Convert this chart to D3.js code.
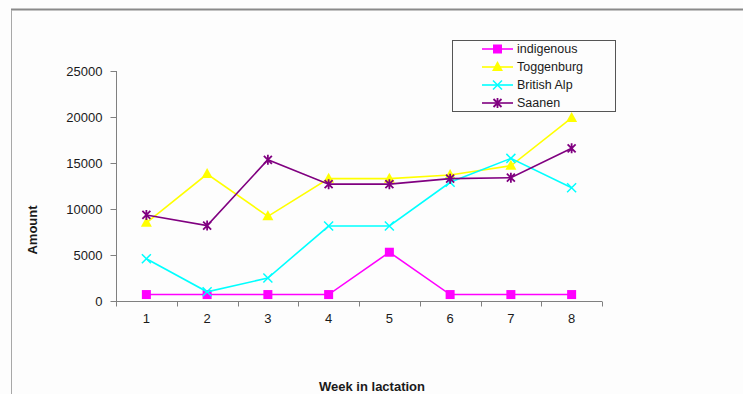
<!DOCTYPE html>
<html><head><meta charset="utf-8">
<script src="https://cdn.jsdelivr.net/npm/d3@7"></script>
<style>
html,body{margin:0;padding:0;background:#fdfdfd;}
svg{display:block;}
text{font-family:"Liberation Sans",Arial,sans-serif;}
</style></head>
<body>
<script>
const weeks = ["1","2","3","4","5","6","7","8"];
const indigenous = [700, 700, 700, 700, 5300, 700, 700, 700];
const toggenburg = [8500, 13800, 9200, 13300, 13300, 13700, 14700, 19900];
const britishAlp = [4600, 1000, 2500, 8150, 8150, 12900, 15500, 12300];
const saanen = [9350, 8200, 15350, 12700, 12700, 13300, 13400, 16600];
const yTicks = [0, 5000, 10000, 15000, 20000, 25000];
const seriesNames = ["indigenous", "Toggenburg", "British Alp", "Saanen"];

const series = [
  {name: seriesNames[0], values: indigenous, color: "#ff00ff", marker: "square"},
  {name: seriesNames[1], values: toggenburg, color: "#ffff00", marker: "triangle"},
  {name: seriesNames[2], values: britishAlp, color: "#00ffff", marker: "x"},
  {name: seriesNames[3], values: saanen, color: "#800080", marker: "star"}
];

const W = 743, H = 394;
const svg = d3.select("body").append("svg").attr("width", W).attr("height", H);

// frame lines
svg.append("line").attr("x1", 11).attr("x2", W).attr("y1", 9.5).attr("y2", 9.5).attr("stroke", "#8a8a8a").attr("stroke-width", 2);
svg.append("line").attr("x1", 11.5).attr("x2", 11.5).attr("y1", 10).attr("y2", H).attr("stroke", "#a8a8a8").attr("stroke-width", 1);

const x = d3.scaleBand().domain(weeks).range([116, 602]);
const y = d3.scaleLinear().domain([0, 25000]).range([301, 71]);

// y axis
const yAxis = svg.append("g").attr("transform", "translate(116.5,0)")
  .call(d3.axisLeft(y).tickValues(yTicks).tickSize(6).tickPadding(8).tickFormat(d3.format("d")));
yAxis.select(".domain").attr("stroke", "#808080").attr("d", `M0,${y(25000)}V${y(0)}`);
yAxis.selectAll(".tick line").attr("stroke", "#808080");
yAxis.selectAll(".tick text").attr("font-size", 13).attr("fill", "#1a1a1a").attr("dy", "0.35em");

// x axis
const xAxis = svg.append("g").attr("transform", "translate(0,301.5)");
xAxis.append("line").attr("x1", 116).attr("x2", 602).attr("stroke", "#808080");
const bounds = weeks.map(w => x(w)).concat([x.range()[1]]);
xAxis.selectAll("line.tk").data(bounds).enter().append("line").attr("class", "tk")
  .attr("x1", d => Math.round(d) + 0.5).attr("x2", d => Math.round(d) + 0.5).attr("y1", 0).attr("y2", 5).attr("stroke", "#808080");
xAxis.selectAll("text").data(weeks).enter().append("text")
  .attr("x", d => x(d) + x.bandwidth() / 2).attr("y", 21)
  .attr("text-anchor", "middle").attr("font-size", 13).attr("fill", "#1a1a1a").text(d => d);

// axis titles
svg.append("text").attr("x", 372).attr("y", 391).attr("text-anchor", "middle")
  .attr("font-size", 13).attr("font-weight", "bold").attr("fill", "#1a1a1a").text("Week in lactation");
svg.append("text").attr("transform", "translate(37,230) rotate(-90)").attr("text-anchor", "middle")
  .attr("font-size", 13).attr("font-weight", "bold").attr("fill", "#1a1a1a").text("Amount");

function drawMarker(g, type, color) {
  if (type === "square") {
    g.append("rect").attr("x", -4.5).attr("y", -4.5).attr("width", 9).attr("height", 9).attr("fill", color);
  } else if (type === "triangle") {
    g.append("path").attr("d", "M0,-6L5.5,4L-5.5,4Z").attr("fill", color);
  } else if (type === "x") {
    g.append("path").attr("d", "M-4.5,-4.5L4.5,4.5M-4.5,4.5L4.5,-4.5").attr("stroke", color).attr("stroke-width", 1.5).attr("fill", "none");
  } else if (type === "star") {
    g.append("path").attr("d", "M-4,-4L4,4M-4,4L4,-4M0,-5V5").attr("stroke", color).attr("stroke-width", 1.8).attr("fill", "none");
  }
}

const cx = w => x(w) + x.bandwidth() / 2;
const line = d3.line().x((d, i) => cx(weeks[i])).y(d => y(d));

series.forEach(s => {
  svg.append("path").datum(s.values).attr("d", line).attr("fill", "none")
    .attr("stroke", s.color).attr("stroke-width", 1.6);
  s.values.forEach((v, i) => {
    const g = svg.append("g").attr("transform", `translate(${cx(weeks[i])},${y(v)})`);
    drawMarker(g, s.marker, s.color);
  });
});

// legend
const lg = svg.append("g");
lg.append("rect").attr("x", 452.5).attr("y", 40.5).attr("width", 163).attr("height", 71)
  .attr("fill", "#fdfdfd").attr("stroke", "#555").attr("stroke-width", 1);
series.forEach((s, i) => {
  const yy = 49 + i * 18;
  lg.append("line").attr("x1", 482).attr("x2", 513).attr("y1", yy).attr("y2", yy).attr("stroke", s.color).attr("stroke-width", 1.6);
  const g = lg.append("g").attr("transform", `translate(497.5,${yy})`);
  drawMarker(g, s.marker, s.color);
  lg.append("text").attr("x", 517).attr("y", yy).attr("dy", "0.35em").attr("font-size", 12.5)
    .attr("fill", "#1a1a1a").text(s.name);
});
</script>
</body></html>
